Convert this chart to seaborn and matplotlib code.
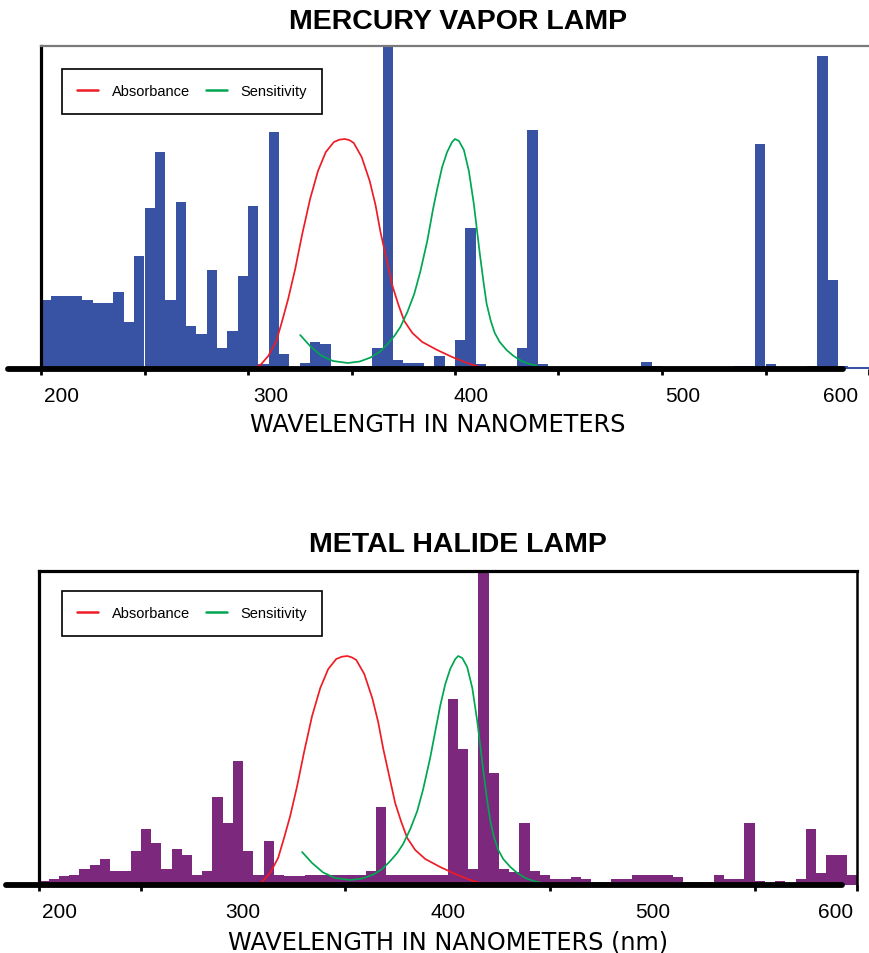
import numpy as np
import pandas as pd
import matplotlib
matplotlib.use("Agg")
import matplotlib.pyplot as plt
import seaborn as sns

# ---------------------------------------------------------------
# Lamp emission spectra in 5 nm bands (relative intensity, 0-100)
# ---------------------------------------------------------------
band_start_nm = np.arange(200, 600, 5)

mercury_intensity = [
    21.4, 22.7, 22.7, 22.7, 21.4, 20.4, 20.4, 23.8, 14.6, 35.0,   # 200-245
    49.8, 67.1, 21.4, 51.6, 13.3, 10.9, 30.6, 6.5, 11.7, 28.9,    # 250-295
    50.5, 1.5, 73.4, 4.6, 0.5, 1.8, 8.4, 7.7, 0.8, 0.8,           # 300-345
    0.8, 1.0, 6.5, 104.0, 2.8, 1.8, 1.8, 0.5, 4.1, 0.3,           # 350-395
    9.0, 43.7, 1.5, 0.5, 0.3, 0.5, 6.5, 74.0, 1.5, 0.5,           # 400-445
    0.3, 0.3, 0.3, 0.3, 0.3, 0.3, 0.3, 0.5, 2.3, 1.0,             # 450-495
    0.3, 0.3, 0.3, 0.3, 0.3, 0.3, 0.3, 1.0, 1.0, 69.7,            # 500-545
    1.5, 0.3, 0.3, 0.3, 1.0, 97.0, 27.6, 1.0, 0.7, 0.7,           # 550-595
]

metal_halide_intensity = [
    1.3, 1.9, 2.8, 3.3, 5.1, 6.4, 8.3, 4.5, 4.5, 10.8,            # 200-245
    17.8, 13.4, 5.1, 11.5, 9.6, 3.2, 4.5, 28.1, 19.7, 39.5,       # 250-295
    10.8, 3.2, 14.0, 3.2, 2.8, 2.8, 3.2, 3.2, 3.2, 3.2,           # 300-345
    3.2, 3.2, 4.4, 24.8, 3.2, 3.2, 3.2, 3.2, 3.2, 3.2,            # 350-395
    59.2, 43.3, 5.1, 104.0, 35.7, 5.1, 4.0, 19.7, 4.4, 3.2,       # 400-445
    1.9, 1.9, 2.5, 1.9, 1.1, 1.1, 1.9, 1.9, 3.2, 3.2,             # 450-495
    3.2, 3.2, 2.5, 1.1, 1.1, 1.1, 3.2, 1.9, 1.9, 19.7,            # 500-545
    1.3, 0.3, 1.3, 0.3, 1.9, 17.8, 3.7, 9.6, 9.6, 3.2,            # 550-595
]

# ---------------------------------------------------------------
# Photoinitiator absorbance / sensitivity curves (relative units)
# ---------------------------------------------------------------
hg_absorbance_nm = [302.2, 306.0, 309.8, 313.7, 316.5, 319.4, 322.8, 326.1,
                    330.0, 333.8, 337.6, 341.5, 344.2, 346.8, 349.0, 351.1,
                    354.9, 358.8, 361.6, 364.0, 366.9, 369.8, 372.7, 375.5,
                    379.4, 384.2, 391.4, 398.6, 405.8, 412.0]
hg_absorbance = [0.15, 1.24, 4.02, 8.67, 14.86, 21.67, 30.96, 41.49,
                 52.63, 61.30, 67.18, 70.28, 71.00, 71.21, 70.85, 69.97,
                 65.63, 58.20, 50.77, 42.41, 34.06, 25.70, 19.81, 14.86,
                 11.15, 8.36, 5.88, 3.72, 1.86, 0.62]

hg_sensitivity_nm = [325.2, 330.0, 335.3, 341.0, 348.2, 354.0, 359.2, 363.5,
                     367.4, 370.7, 373.6, 377.0, 380.3, 383.2, 386.6, 389.4,
                     391.4, 393.8, 396.2, 398.6, 400.0, 401.9, 404.3, 406.7,
                     409.1, 412.0, 413.9, 415.3, 417.3, 419.2, 421.6, 424.9,
                     428.3, 432.1, 436.0, 439.3]
hg_sensitivity = [10.53, 7.12, 4.18, 2.48, 1.86, 2.32, 3.56, 5.26,
                  7.74, 10.22, 13.00, 17.65, 23.22, 30.03, 39.63, 49.54,
                  55.73, 62.54, 67.18, 70.28, 71.21, 70.59, 67.80, 61.30,
                  51.08, 35.60, 26.32, 20.12, 14.86, 11.15, 8.36, 5.88,
                  4.02, 2.48, 1.55, 1.08]

mh_absorbance_nm = [305.4, 309.3, 313.2, 317.1, 320.0, 323.0, 326.4, 329.8,
                    333.7, 337.7, 341.6, 345.5, 348.2, 350.9, 353.1, 355.3,
                    359.2, 363.1, 366.0, 368.5, 371.4, 374.3, 377.3, 380.2,
                    384.1, 389.0, 396.3, 403.7, 411.0, 417.4]
mh_absorbance = [0.0, 0.96, 3.82, 8.60, 14.97, 21.97, 31.53, 42.36,
                 53.82, 62.74, 68.79, 71.97, 72.70, 72.93, 72.50, 71.66,
                 67.20, 59.55, 51.91, 43.31, 34.71, 26.11, 20.06, 14.97,
                 11.15, 8.28, 5.73, 3.50, 1.59, 0.32]

mh_sensitivity_nm = [328.8, 333.7, 339.1, 345.0, 352.3, 358.2, 363.6, 368.0,
                     371.9, 375.3, 378.2, 381.7, 385.1, 388.0, 391.4, 394.4,
                     396.3, 398.8, 401.2, 403.7, 405.1, 407.1, 409.5, 412.0,
                     414.4, 417.4, 419.3, 420.8, 422.7, 424.7, 427.1, 430.6,
                     434.0, 437.9, 441.8, 445.2]
mh_sensitivity = [10.51, 7.01, 3.98, 2.23, 1.59, 2.07, 3.34, 5.10,
                  7.64, 10.19, 13.06, 17.83, 23.57, 30.57, 40.45, 50.64,
                  57.01, 64.01, 68.79, 71.97, 72.93, 72.29, 69.43, 62.74,
                  52.23, 36.31, 26.75, 20.38, 14.97, 11.15, 8.28, 5.73,
                  3.82, 2.23, 1.27, 0.80]

tick_text = ["200", "300", "400", "500", "600"]

# ---------------------------------------------------------------
# Styling
# ---------------------------------------------------------------
sns.set_style("white")
plt.rcParams["font.family"] = ["Liberation Sans", "DejaVu Sans"]
plt.rcParams["text.color"] = "black"
plt.rcParams["axes.labelcolor"] = "black"
plt.rcParams["xtick.color"] = "black"
plt.rcParams["xtick.labelcolor"] = "black"

ABS_COLOR = "#ee1c25"
SEN_COLOR = "#00a651"
HG_COLOR = "#3953a4"
MH_COLOR = "#7b287d"

W, H = 869, 954
fig = plt.figure(figsize=(W / 100, H / 100), dpi=100)


def axes_rect(left_px, right_px, top_px, bottom_px):
    return [left_px / W, 1 - bottom_px / H,
            (right_px - left_px) / W, (bottom_px - top_px) / H]


def draw_panel(ax, intensity, bar_color, abs_nm, abs_val, sen_nm, sen_val,
               xmax, label_nm, xlabel, label_xy, legend_anchor, base_xmax,
               top_spine_color, show_right):
    spectrum = pd.DataFrame({"nm": band_start_nm + 2.5,
                             "intensity": intensity})
    sns.histplot(data=spectrum, x="nm", weights="intensity",
                 binwidth=5, binrange=(200, 600),
                 color=bar_color, alpha=1, linewidth=0, ax=ax, zorder=1)
    sns.lineplot(x=abs_nm, y=abs_val, color=ABS_COLOR, linewidth=1.25,
                 label="Absorbance", ax=ax, zorder=3)
    sns.lineplot(x=sen_nm, y=sen_val, color=SEN_COLOR, linewidth=1.25,
                 label="Sensitivity", ax=ax, zorder=3)

    ax.set_xlim(200, xmax)
    ax.set_ylim(0, 100)
    ax.set_ylabel("")
    ax.set_yticks([])

    # tick marks every 50 nm, labels every 100 nm
    ax.set_xticks(np.arange(200, 601, 50), minor=True)
    ax.set_xticks(label_nm)
    ax.set_xticklabels(tick_text, fontsize=15)
    ax.tick_params(axis="x", which="major", length=0, pad=12)
    ax.tick_params(axis="x", which="minor", length=4, width=2.0,
                   color="black", direction="out", bottom=True)

    ax.set_xlabel(xlabel, fontsize=17.3, family="DejaVu Sans")
    ax.xaxis.set_label_coords(*label_xy)

    # frame
    ax.spines["left"].set_linewidth(2.3)
    ax.spines["left"].set_color("black")
    ax.spines["top"].set_linewidth(1.6 if top_spine_color != "black" else 2.3)
    ax.spines["top"].set_color(top_spine_color)
    ax.spines["right"].set_visible(show_right)
    ax.spines["right"].set_linewidth(1.8)
    ax.spines["right"].set_color("black")
    ax.spines["bottom"].set_visible(False)

    # heavy baseline
    ax.axhline(0, xmin=-0.04, xmax=base_xmax, color="black", linewidth=4.2,
               clip_on=False, zorder=4)

    leg = ax.legend(ncol=2, loc="upper left", bbox_to_anchor=legend_anchor,
                    borderaxespad=0, frameon=True, fancybox=False,
                    framealpha=1, edgecolor="black", fontsize=10.5,
                    handlelength=1.45, handletextpad=0.9, columnspacing=1.1,
                    borderpad=1.05)
    leg.get_frame().set_linewidth(1.2)
    for line in leg.get_lines():
        line.set_linewidth(1.8)


ax_hg = fig.add_axes(axes_rect(41, 869, 47, 370))
draw_panel(ax_hg, mercury_intensity, HG_COLOR,
           hg_absorbance_nm, hg_absorbance, hg_sensitivity_nm, hg_sensitivity,
           xmax=597.1, label_nm=[210, 310.8, 408.0, 509.8, 586.1],
           xlabel="WAVELENGTH IN NANOMETERS", label_xy=(0.479, -0.133),
           legend_anchor=(0.0254, 0.929), base_xmax=0.968,
           top_spine_color="#7a7a7a", show_right=False)

ax_mh = fig.add_axes(axes_rect(38.5, 857, 572, 886))
draw_panel(ax_mh, metal_halide_intensity, MH_COLOR,
           mh_absorbance_nm, mh_absorbance, mh_sensitivity_nm, mh_sensitivity,
           xmax=600, label_nm=[210.5, 300, 400, 500, 589.5],
           xlabel="WAVELENGTH IN NANOMETERS (nm)", label_xy=(0.500, -0.141),
           legend_anchor=(0.0287, 0.936), base_xmax=0.982,
           top_spine_color="black", show_right=True)

fig.text(458 / W, 1 - 22 / H, "MERCURY VAPOR LAMP", ha="center", va="center",
         fontsize=20.5, fontweight="bold", color="black")
fig.text(458 / W, 1 - 545 / H, "METAL HALIDE LAMP", ha="center", va="center",
         fontsize=20.5, fontweight="bold", color="black")

fig.savefig("out.png", dpi=100, facecolor="white")
